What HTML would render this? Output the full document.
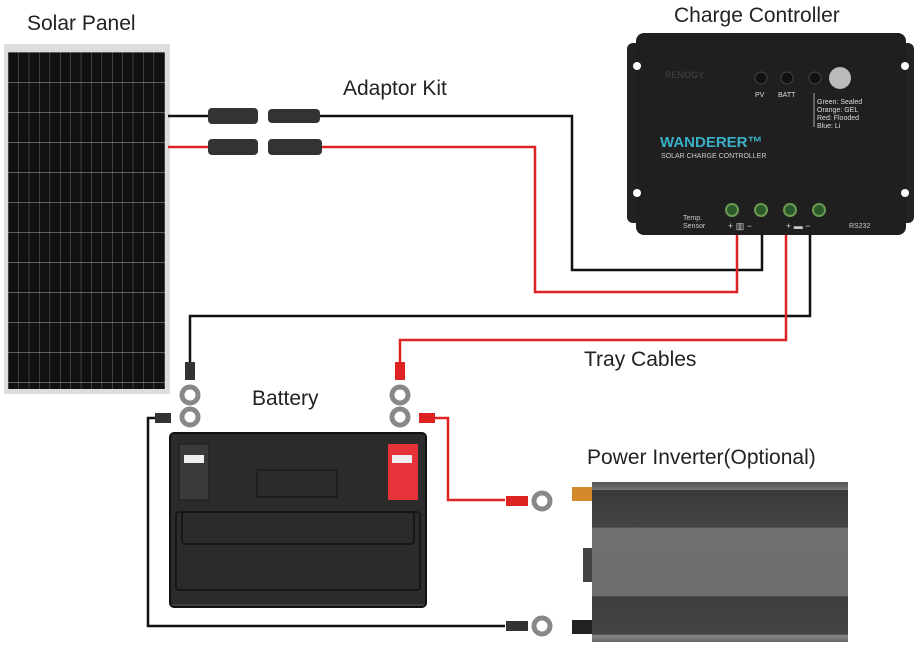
<!DOCTYPE html>
<html><head><meta charset="utf-8"><style>
html,body{margin:0;padding:0;background:#fff;}
svg{display:block;font-family:"Liberation Sans",sans-serif;}
</style></head><body>
<svg width="914" height="652" viewBox="0 0 914 652" xmlns="http://www.w3.org/2000/svg">
<defs>
<pattern id="cells" x="8" y="52" width="10.4" height="30" patternUnits="userSpaceOnUse">
<rect width="10.4" height="30" fill="#111"/>
<line x1="0" y1="0" x2="0" y2="30" stroke="#888" stroke-width="0.8"/>
<line x1="0" y1="0" x2="10.4" y2="0" stroke="#aaa" stroke-width="1"/>
</pattern>
<linearGradient id="inv" x1="0" y1="0" x2="0" y2="1">
<stop offset="0" stop-color="#555"/><stop offset="0.03" stop-color="#666"/><stop offset="0.05" stop-color="#777"/>
<stop offset="0.05" stop-color="#3a3a3a"/><stop offset="0.28" stop-color="#444"/>
<stop offset="0.29" stop-color="#707070"/><stop offset="0.71" stop-color="#6e6e6e"/>
<stop offset="0.72" stop-color="#3d3d3d"/><stop offset="0.95" stop-color="#454545"/>
<stop offset="0.96" stop-color="#888"/><stop offset="1" stop-color="#666"/>
</linearGradient>
</defs>
<!-- texts -->
<text x="27" y="30" font-size="21" fill="#222">Solar Panel</text>
<text x="343" y="95" font-size="21" fill="#222">Adaptor Kit</text>
<text x="674" y="22" font-size="21" fill="#222">Charge Controller</text>
<text x="584" y="366" font-size="21" fill="#222">Tray Cables</text>
<text x="252" y="405" font-size="21" fill="#222">Battery</text>
<text x="587" y="464" font-size="21" fill="#222">Power Inverter(Optional)</text>

<!-- solar panel -->
<rect x="4" y="44" width="166" height="350" fill="#ddd"/>
<rect x="8" y="52" width="157" height="337" fill="url(#cells)"/>

<!-- wires -->
<g fill="none" stroke-width="2.5">
<polyline points="168,116 210,116" stroke="#111"/>
<polyline points="320,116 572,116 572,270 762,270 762,225" stroke="#111"/>
<polyline points="168,147 210,147" stroke="#d22"/>
<polyline points="320,147 535,147 535,292 737,292 737,225" stroke="#d22"/>
<polyline points="810,225 810,316 190,316 190,370" stroke="#111"/>
<polyline points="786,225 786,340 400,340 400,370" stroke="#d22"/>
<polyline points="160,418 148,418 148,626 505,626" stroke="#111"/>
<polyline points="425,418 448,418 448,500 505,500" stroke="#d22"/>
</g>
<!-- MC4 connectors -->
<g fill="#333">
<rect x="208" y="108" width="50" height="16" rx="4"/><rect x="268" y="109" width="52" height="14" rx="4"/>
<rect x="208" y="139" width="50" height="16" rx="4"/><rect x="268" y="139" width="54" height="16" rx="4"/>
</g>

<!-- lugs -->
<g fill="none" stroke="#888" stroke-width="5">
<circle cx="190" cy="395" r="8"/><circle cx="190" cy="417" r="8"/>
<circle cx="400" cy="395" r="8"/><circle cx="400" cy="417" r="8"/>
<circle cx="542" cy="501" r="8"/><circle cx="542" cy="626" r="8"/>
</g>
<rect x="185" y="362" width="10" height="18" fill="#333"/>
<rect x="395" y="362" width="10" height="18" fill="#d22"/>
<rect x="155" y="413" width="16" height="10" fill="#333"/>
<rect x="419" y="413" width="16" height="10" fill="#d22"/>
<rect x="506" y="496" width="22" height="10" fill="#d22"/>
<rect x="506" y="621" width="22" height="10" fill="#333"/>

<!-- battery -->
<rect x="170" y="433" width="256" height="174" rx="4" fill="#2b2b2b" stroke="#111" stroke-width="2"/>
<rect x="179" y="444" width="30" height="56" fill="#3a3a3a" stroke="#1a1a1a"/>
<rect x="184" y="455" width="20" height="8" fill="#eee"/>
<rect x="388" y="444" width="30" height="56" fill="#e8323a"/>
<rect x="392" y="455" width="20" height="8" fill="#eee"/>
<rect x="257" y="470" width="80" height="27" fill="none" stroke="#1a1a1a" stroke-width="1.5"/>
<rect x="182" y="512" width="232" height="32" rx="3" fill="none" stroke="#111" stroke-width="1.5"/>
<rect x="176" y="512" width="244" height="78" rx="3" fill="none" stroke="#111" stroke-width="1.5"/>
<line x1="172" y1="605" x2="424" y2="605" stroke="#555" stroke-width="1"/>

<!-- inverter -->
<rect x="572" y="487" width="24" height="14" fill="#d48a2a"/>
<rect x="572" y="620" width="24" height="14" fill="#222"/>
<rect x="583" y="548" width="12" height="34" fill="#444"/>
<rect x="592" y="482" width="256" height="160" fill="url(#inv)"/>

<!-- charge controller -->
<rect x="627" y="43" width="20" height="180" rx="6" fill="#222"/>
<rect x="895" y="43" width="19" height="180" rx="6" fill="#222"/>
<rect x="636" y="33" width="270" height="202" rx="8" fill="#1f1f1f"/>
<circle cx="637" cy="66" r="4" fill="#fff"/><circle cx="637" cy="193" r="4" fill="#fff"/>
<circle cx="905" cy="66" r="4" fill="#fff"/><circle cx="905" cy="193" r="4" fill="#fff"/>
<text x="665" y="78" font-size="9" fill="#444">RENOGY</text>
<circle cx="761" cy="78" r="6" fill="#111" stroke="#444"/>
<circle cx="787" cy="78" r="6" fill="#111" stroke="#444"/>
<circle cx="815" cy="78" r="6" fill="#111" stroke="#444"/>
<circle cx="840" cy="78" r="11" fill="#bbb"/>
<text x="755" y="97" font-size="7" fill="#ddd">PV</text>
<text x="778" y="97" font-size="7" fill="#ddd">BATT</text>
<line x1="814" y1="93" x2="814" y2="127" stroke="#aaa"/>
<text x="817" y="104" font-size="7" fill="#ddd">Green: Sealed</text>
<text x="817" y="112" font-size="7" fill="#ddd">Orange: GEL</text>
<text x="817" y="120" font-size="7" fill="#ddd">Red: Flooded</text>
<text x="817" y="128" font-size="7" fill="#ddd">Blue: Li</text>
<text x="660" y="147" font-size="15" font-weight="bold" fill="#3ab0c8">WANDERER™</text>
<text x="661" y="158" font-size="7" fill="#ccc">SOLAR CHARGE CONTROLLER</text>
<g fill="#2a5a2a" stroke="#6a9a50" stroke-width="2">
<circle cx="732" cy="210" r="6"/><circle cx="761" cy="210" r="6"/><circle cx="790" cy="210" r="6"/><circle cx="819" cy="210" r="6"/>
</g>
<text x="683" y="220" font-size="7" fill="#ccc">Temp.</text>
<text x="683" y="228" font-size="7" fill="#ccc">Sensor</text>
<text x="728" y="229" font-size="9" fill="#ccc">+ ▥ −</text>
<text x="786" y="229" font-size="9" fill="#ccc">+ ▬ −</text>
<text x="849" y="228" font-size="7" fill="#ccc">RS232</text>
</svg>
</body></html>
